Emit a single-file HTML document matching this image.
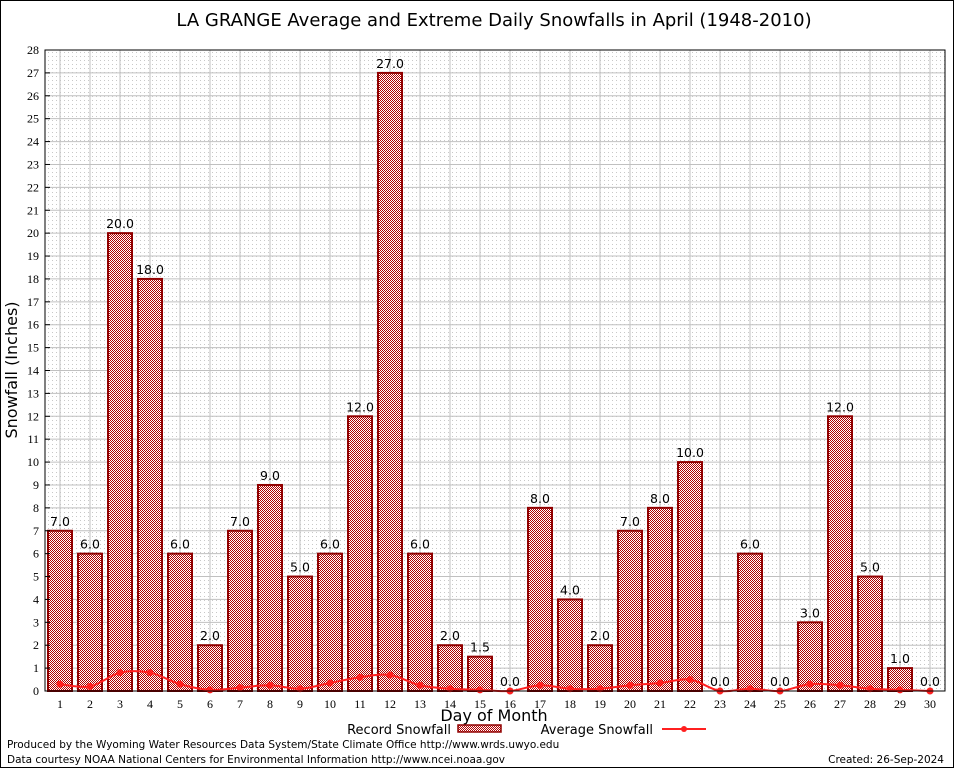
<!DOCTYPE html>
<html><head><meta charset="utf-8"><style>
body{margin:0;background:#fff}
svg{display:block;font-family:"DejaVu Sans","Liberation Sans",sans-serif}
</style></head><body>
<svg id="chart" width="954" height="768" viewBox="0 0 954 768">
<defs>
<pattern id="hatch" width="2" height="2" patternUnits="userSpaceOnUse">
<rect width="2" height="2" fill="#ffffff"/>
<rect x="0" y="0" width="1" height="1" fill="#b00000"/>
<rect x="1" y="1" width="1" height="1" fill="#b00000"/>
</pattern>
<pattern id="dots" width="4" height="4" patternUnits="userSpaceOnUse">
<rect width="4" height="4" fill="#fff"/>
<rect width="1" height="1" fill="#c8c8c8"/>
</pattern>
</defs>
<rect x="0.5" y="0.5" width="953" height="767" fill="#fff" stroke="#000"/>
<text x="494" y="26" font-size="18" text-anchor="middle">LA GRANGE Average and Extreme Daily Snowfalls in April (1948-2010)</text>
<rect x="45" y="50" width="900" height="641" fill="url(#dots)"/>
<g id="grid"></g>
<g id="bars"></g>
<g id="avg"></g>
<rect x="45" y="50" width="900" height="641" fill="none" stroke="#000"/>
<g id="axes" font-family="Liberation Serif, serif" font-size="12"></g>
<text x="17" y="370" font-size="16" text-anchor="middle" transform="rotate(-90 17 370)">Snowfall (Inches)</text>
<text x="494" y="721" font-size="16" text-anchor="middle">Day of Month</text>
<g font-size="13">
<text x="451" y="734" text-anchor="end">Record Snowfall</text>
<rect x="458" y="725" width="43" height="7" fill="url(#hatch)" stroke="#900000" stroke-width="1.5"/>
<text x="653" y="734" text-anchor="end">Average Snowfall</text>
<line x1="662" y1="729" x2="706" y2="729" stroke="#ff2020" stroke-width="2"/>
<circle cx="684" cy="729" r="3" fill="#ff2020"/>
</g>
<text x="7" y="748" font-size="10.5">Produced by the Wyoming Water Resources Data System/State Climate Office http://www.wrds.uwyo.edu</text>
<text x="7" y="763" font-size="10.5">Data courtesy NOAA National Centers for Environmental Information http://www.ncei.noaa.gov</text>
<text x="944" y="763" font-size="10.5" text-anchor="end">Created:  26-Sep-2024</text>
</svg>
<script>
const days=[1,2,3,4,5,6,7,8,9,10,11,12,13,14,15,16,17,18,19,20,21,22,23,24,25,26,27,28,29,30];
const recordValues=[7,6,20,18,6,2,7,9,5,6,12,27,6,2,1.5,0,8,4,2,7,8,10,0,6,0,3,12,5,1,0];
const averageValues=[0.3,0.2,0.8,0.8,0.3,0.05,0.15,0.25,0.1,0.35,0.6,0.7,0.25,0.1,0.05,0,0.25,0.1,0.1,0.25,0.35,0.5,0,0.1,0,0.3,0.25,0.1,0.05,0];
const yTicks=[0,1,2,3,4,5,6,7,8,9,10,11,12,13,14,15,16,17,18,19,20,21,22,23,24,25,26,27,28];
const NS='http://www.w3.org/2000/svg';
const X0=45,X1=945,Y0=691,Y1=50;
function xs(d){return X0+(d-0.5)*(X1-X0)/30;}
function ys(v){return Y0-v*(Y0-Y1)/28;}
function mk(tag,attrs,parent){const e=document.createElementNS(NS,tag);for(const k in attrs)e.setAttribute(k,attrs[k]);parent.appendChild(e);return e;}
const grid=document.getElementById('grid'),bars=document.getElementById('bars'),avg=document.getElementById('avg'),axes=document.getElementById('axes');
yTicks.forEach(t=>{
 const l=mk('line',{x1:X0,x2:X1,y1:ys(t),y2:ys(t),stroke:'#c0c0c0','stroke-width':1},grid);
 
 
 const tx=mk('text',{x:X0-6,y:ys(t)+4,'text-anchor':'end'},axes);
 tx.textContent=t;
 
 
 const tk=mk('line',{x1:X0,x2:X0+5,y1:ys(t),y2:ys(t),stroke:'#000'},axes);
 
 
});
days.forEach((d,i)=>{
 const gx=xs(d);
 const l=mk('line',{x1:gx,x2:gx,y1:Y1,y2:Y0,stroke:'#c0c0c0','stroke-width':1},grid);
 
 
 const tx=mk('text',{x:gx,y:Y0+17,'text-anchor':'middle'},axes);
 tx.textContent=d;
 
 
 const v=recordValues[i];
 if(v>0){
  const b=mk('rect',{x:gx-12,y:ys(v),width:24,height:Y0-ys(v),fill:'url(#hatch)',stroke:'#900000','stroke-width':2},bars);
  
  
 }
 const lb=mk('text',{x:gx,y:ys(v)-5,'text-anchor':'middle','font-size':12.5},bars);
 lb.textContent=v.toFixed(1);
 
 
});
const pts=days.map((d,i)=>[xs(d),ys(averageValues[i])]);
let dstr='M'+pts[0][0]+','+pts[0][1];
for(let i=0;i<pts.length-1;i++){
 const p0=pts[Math.max(0,i-1)],p1=pts[i],p2=pts[i+1],p3=pts[Math.min(pts.length-1,i+2)];
 const c1=[p1[0]+(p2[0]-p0[0])/6,p1[1]+(p2[1]-p0[1])/6],c2=[p2[0]-(p3[0]-p1[0])/6,p2[1]-(p3[1]-p1[1])/6];
 dstr+=' C'+c1+' '+c2+' '+p2;
}
const path=mk('path',{d:dstr,fill:'none',stroke:'#ff2020','stroke-width':2},avg);


pts.forEach((p,i)=>{
 const c=mk('circle',{cx:p[0],cy:p[1],r:3.5,fill:'#ff2020'},avg);
 
 
});
</script>
</body></html>
